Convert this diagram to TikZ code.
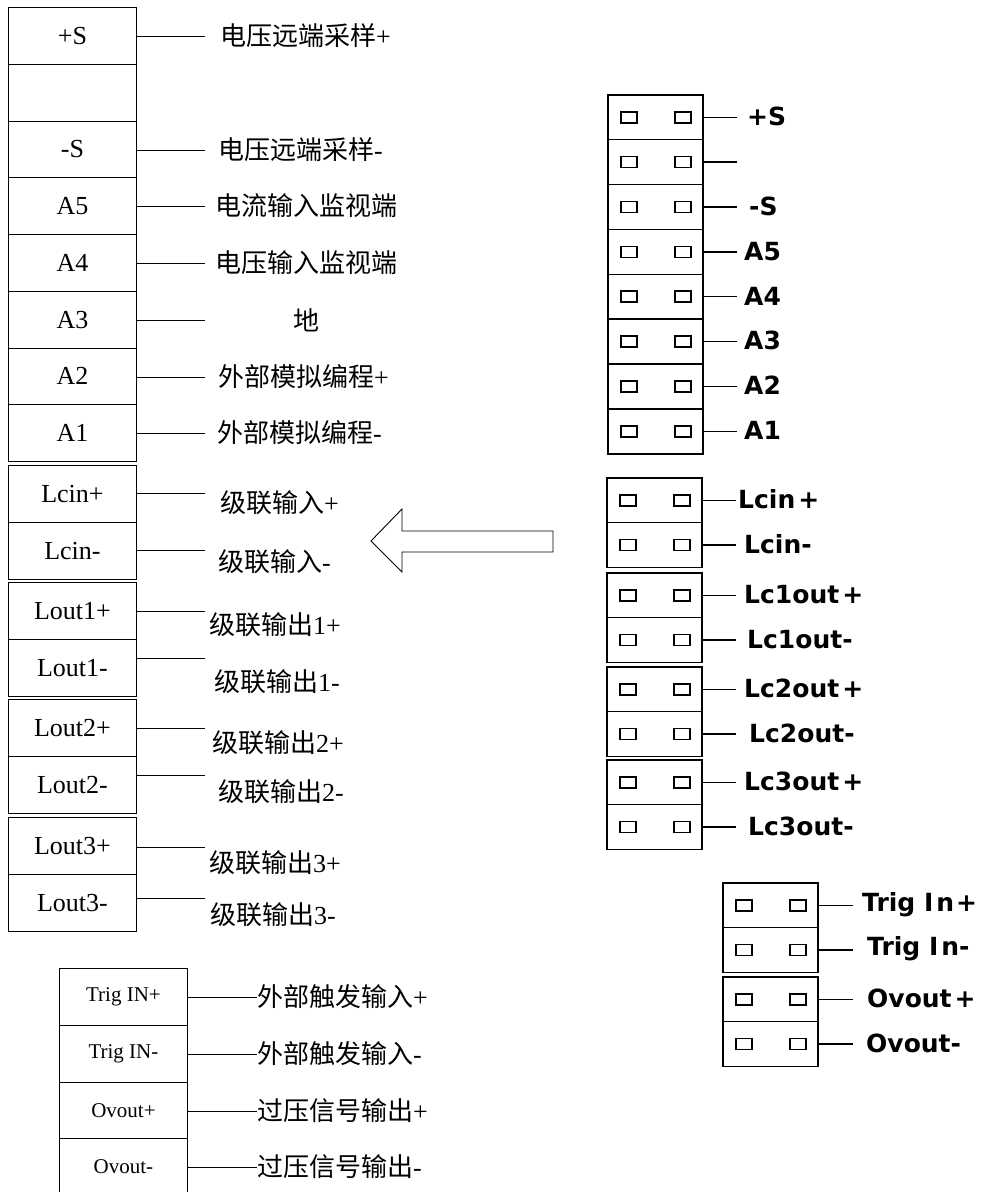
\documentclass[tikz,border=0pt]{standalone}
\usepackage{fontspec}
\setmainfont{Liberation Serif}
\newfontfamily\cjk{Noto Sans CJK SC}
\newfontfamily\bsans{DejaVu Sans}
\begin{document}
\begin{tikzpicture}[x=1pt,y=-1pt,
  lbox/.style={draw, line width=0.9pt, minimum width=128pt, minimum height=56.75pt, anchor=north west, inner sep=0pt, font=\fontsize{26}{30}\selectfont},
  sbox/.style={lbox, font=\fontsize{21}{24}\selectfont},
  conn/.style={line width=0.8pt},
  zlab/.style={anchor=west, inner sep=0pt, font=\fontsize{26}{30}\selectfont},
  jrow/.style={draw, line width=1.6pt, minimum width=95pt, minimum height=44.875pt, anchor=north west, inner sep=0pt,
    path picture={
      \draw[line width=1.6pt] ([xshift=13pt,yshift=-5.5pt]path picture bounding box.west) rectangle ++(16pt,11pt);
      \draw[line width=1.6pt] ([xshift=-28pt,yshift=-5.5pt]path picture bounding box.east) rectangle ++(16pt,11pt);}},
  jconn/.style={line width=1.4pt},
  rlab/.style={anchor=west, inner sep=0pt, font=\bsans\bfseries\fontsize{25}{28}\selectfont},
  arrowshape/.style={draw, line width=0.9pt, fill=white}
]
\useasboundingbox (0,0) rectangle (985,1192);
\fill[white] (0,0) rectangle (985,1192);

% ---------------- left column ----------------
\node[lbox] (s1) at (8,7) {+S};
\node[lbox] (s2) at (8,63.75) {};
\node[lbox] (s3) at (8,120.5) {-S};
\node[lbox] (a5) at (8,177.25) {A5};
\node[lbox] (a4) at (8,234) {A4};
\node[lbox] (a3) at (8,290.75) {A3};
\node[lbox] (a2) at (8,347.5) {A2};
\node[lbox] (a1) at (8,404.25) {A1};
\node[lbox] (lcp) at (8,465) {Lcin+};
\node[lbox] (lcm) at (8,521.75) {Lcin-};
\node[lbox] (lo1p) at (8,582) {Lout1+};
\node[lbox] (lo1m) at (8,638.75) {Lout1-};
\node[lbox] (lo2p) at (8,699) {Lout2+};
\node[lbox] (lo2m) at (8,755.75) {Lout2-};
\node[lbox] (lo3p) at (8,817) {Lout3+};
\node[lbox] (lo3m) at (8,873.75) {Lout3-};

\coordinate (es1) at (205,36);
\coordinate (es3) at (205,150);
\coordinate (ea5) at (205,206.5);
\coordinate (ea4) at (205,263);
\coordinate (ea3) at (205,320);
\coordinate (ea2) at (205,377);
\coordinate (ea1) at (205,433);
\coordinate (elcp) at (205,493);
\coordinate (elcm) at (205,550);
\coordinate (elo1p) at (205,611);
\coordinate (elo1m) at (205,658);
\coordinate (elo2p) at (205,728);
\coordinate (elo2m) at (205,775);
\coordinate (elo3p) at (205,847);
\coordinate (elo3m) at (205,898);
\foreach \n in {s1,s3,a5,a4,a3,a2,a1,lcp,lcm,lo1p,lo1m,lo2p,lo2m,lo3p,lo3m}
  \draw[conn] (\n.east |- e\n) -- (e\n);

\node[zlab] (ts1) at (220,36) {{\cjk 电压远端采样}+};
\node[zlab] (ts3) at (218,150) {{\cjk 电压远端采样}-};
\node[zlab] (ta5) at (215,206) {{\cjk 电流输入监视端}};
\node[zlab] (ta4) at (215,263) {{\cjk 电压输入监视端}};
\node[zlab] (ta3) at (293,320) {{\cjk 地}};
\node[zlab] (ta2) at (218,377) {{\cjk 外部模拟编程}+};
\node[zlab] (ta1) at (217,433) {{\cjk 外部模拟编程}-};
\node[zlab] (tlcp) at (220,503) {{\cjk 级联输入}+};
\node[zlab] (tlcm) at (218,562) {{\cjk 级联输入}-};
\node[zlab] (tlo1p) at (209,625) {{\cjk 级联输出}1+};
\node[zlab] (tlo1m) at (214,682) {{\cjk 级联输出}1-};
\node[zlab] (tlo2p) at (212,743) {{\cjk 级联输出}2+};
\node[zlab] (tlo2m) at (218,792) {{\cjk 级联输出}2-};
\node[zlab] (tlo3p) at (209,863) {{\cjk 级联输出}3+};
\node[zlab] (tlo3m) at (210,915) {{\cjk 级联输出}3-};

% ---------------- bottom left ----------------
\node[sbox] (ti1) at (59,968) {Trig IN+};
\node[sbox] (ti2) at (59,1024.75) {Trig IN-};
\node[sbox] (ov1) at (59,1081.5) {Ovout+};
\node[sbox] (ov2) at (59,1138.25) {Ovout-};
\node[zlab] (tti1) at (257,997) {{\cjk 外部触发输入}+};
\node[zlab] (tti2) at (257,1054) {{\cjk 外部触发输入}-};
\node[zlab] (tov1) at (257,1111) {{\cjk 过压信号输出}+};
\node[zlab] (tov2) at (257,1167) {{\cjk 过压信号输出}-};
\foreach \n in {ti1,ti2,ov1,ov2}
  \draw[conn] (\n.east |- t\n.west) -- (t\n.west);

% ---------------- hollow arrow ----------------
\draw[arrowshape] (371,541) -- (402,509) -- (402,531) -- (553,531) -- (553,552) -- (402,552) -- (402,572) -- cycle;

% ---------------- right upper block ----------------
\node[jrow] (r1) at (607,94) {};
\node[jrow] (r2) at (607,138.875) {};
\node[jrow] (r3) at (607,183.75) {};
\node[jrow] (r4) at (607,228.625) {};
\node[jrow] (r5) at (607,273.5) {};
\node[jrow] (r6) at (607,318.375) {};
\node[jrow] (r7) at (607,363.25) {};
\node[jrow] (r8) at (607,408.125) {};
\coordinate (xr) at (737,0);
\foreach \n in {r1,r2,r3,r4,r5,r6,r7,r8}
  \draw[jconn] (\n.east) -- (\n.east -| xr);
\node[rlab] (tr1) at (747,116.4) {+S};
\node[rlab] (tr3) at (749,206.2) {-S};
\node[rlab] (tr4) at (744,251.1) {A5};
\node[rlab] (tr5) at (744,295.9) {A4};
\node[rlab] (tr6) at (744,340.8) {A3};
\node[rlab] (tr7) at (744,385.7) {A2};
\node[rlab] (tr8) at (744,430.6) {A1};

% ---------------- right lower block ----------------
\node[jrow] (q1) at (606,477) {};
\node[jrow] (q2) at (606,521.75) {};
\node[jrow] (q3) at (606,572) {};
\node[jrow] (q4) at (606,616.75) {};
\node[jrow] (q5) at (606,666) {};
\node[jrow] (q6) at (606,710.75) {};
\node[jrow] (q7) at (606,759) {};
\node[jrow] (q8) at (606,803.75) {};
\coordinate (xq) at (736,0);
\foreach \n in {q1,q2,q3,q4,q5,q6,q7,q8}
  \draw[jconn] (\n.east) -- (\n.east -| xq);
\node[rlab] (tq1) at (738,499.4) {Lcin\kern3pt+};
\node[rlab] (tq2) at (744,544.1) {Lcin-};
\node[rlab] (tq3) at (744,594.4) {Lc1out\kern3pt+};
\node[rlab] (tq4) at (747,639.1) {Lc1out-};
\node[rlab] (tq5) at (744,688.4) {Lc2out\kern3pt+};
\node[rlab] (tq6) at (749,733.1) {Lc2out-};
\node[rlab] (tq7) at (744,781.4) {Lc3out\kern3pt+};
\node[rlab] (tq8) at (748,826.1) {Lc3out-};

% ---------------- right bottom block ----------------
\node[jrow] (p1) at (722,882) {};
\node[jrow] (p2) at (722,926.75) {};
\node[jrow] (p3) at (722,976) {};
\node[jrow] (p4) at (722,1020.75) {};
\coordinate (xp) at (853,0);
\foreach \n in {p1,p2,p3,p4}
  \draw[jconn] (\n.east) -- (\n.east -| xp);
\node[rlab] (tp1) at (862,904.4) {Trig I\kern3pt n\kern2pt+};
\node[rlab] (tp2) at (867,949.1) {Trig I\kern3pt n-};
\node[rlab] (tp3) at (867,998.4) {Ovout\kern3pt+};
\node[rlab] (tp4) at (866,1043.1) {Ovout-};
\end{tikzpicture}
\end{document}
